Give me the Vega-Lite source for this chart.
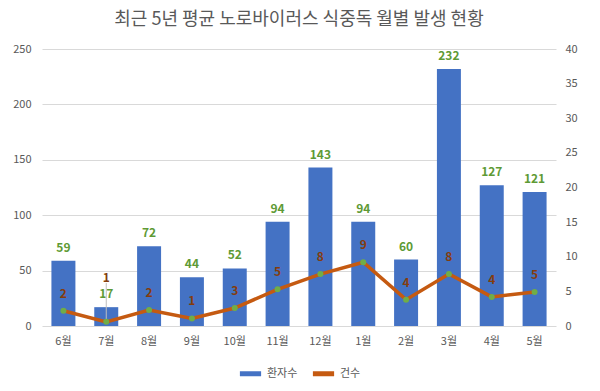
{
  "$schema": "https://vega.github.io/schema/vega-lite/v6.json",
  "width": 514,
  "height": 277,
  "autosize": {"type": "none"},
  "padding": {"left": 42, "top": 49, "right": 44, "bottom": 65},
  "background": "white",
  "title": {"text": "최근 5년 평균 노로바이러스 식중독 월별 발생 현황", "fontSize": 18, "fontWeight": "normal", "color": "#595959", "font": "Noto Sans CJK KR", "anchor": "middle", "offset": 14},
  "config": {
    "view": {"stroke": null},
    "font": "Noto Sans CJK KR",
    "axis": {"labelColor": "#595959", "labelFontSize": 11, "domain": false, "ticks": false, "titleColor": "#595959", "labelOverlap": false},
    "legend": {"layout": {"bottom": {"anchor": "middle"}}}
  },
  "data": {"values": [
    {"month": "6월", "patients": 59, "cases": 2.2},
    {"month": "7월", "patients": 17, "cases": 0.6},
    {"month": "8월", "patients": 72, "cases": 2.3},
    {"month": "9월", "patients": 44, "cases": 1.1},
    {"month": "10월", "patients": 52, "cases": 2.6},
    {"month": "11월", "patients": 94, "cases": 5.3},
    {"month": "12월", "patients": 143, "cases": 7.5},
    {"month": "1월", "patients": 94, "cases": 9.2},
    {"month": "2월", "patients": 60, "cases": 3.8},
    {"month": "3월", "patients": 232, "cases": 7.5},
    {"month": "4월", "patients": 127, "cases": 4.2},
    {"month": "5월", "patients": 121, "cases": 4.9}
  ]},
  "encoding": {
    "x": {"field": "month", "type": "nominal", "sort": ["6월","7월","8월","9월","10월","11월","12월","1월","2월","3월","4월","5월"],
      "scale": {"paddingInner": 0.44, "paddingOuter": 0.22},
      "axis": {"title": null, "labelAngle": 0, "labelPadding": 9, "grid": false}}
  },
  "layer": [
    {
      "encoding": {
        "y": {"field": "patients", "type": "quantitative", "scale": {"domain": [0, 250]},
          "axis": {"title": null, "values": [0,50,100,150,200,250], "grid": true, "gridColor": "#D9D9D9", "labelPadding": 11, "orient": "left"}}
      },
      "layer": [
        {
          "mark": {"type": "bar", "color": "#4472C4"},
          "encoding": {
            "color": {"datum": "환자수", "type": "nominal",
              "scale": {"domain": ["환자수", "건수"], "range": ["#4472C4", "#C55A11"]},
              "legend": {"title": null, "orient": "bottom", "direction": "horizontal", "symbolType": "stroke", "symbolStrokeWidth": 5, "symbolSize": 450, "labelFontSize": 11, "labelColor": "#595959", "columnPadding": 4, "labelOffset": 3, "offset": 14}}
          }
        },
        {
          "mark": {"type": "text", "dy": -13, "baseline": "middle", "fontWeight": "bold", "fontSize": 12, "color": "#5E9A35"},
          "encoding": {
            "text": {"field": "patients", "type": "quantitative"}
          }
        }
      ]
    },
    {
      "encoding": {
        "y": {"field": "cases", "type": "quantitative", "scale": {"domain": [0, 40]},
          "axis": {"title": null, "orient": "right", "values": [0,5,10,15,20,25,30,35,40], "grid": false, "labelPadding": 9, "labelOverlap": false}}
      },
      "layer": [
        {
          "transform": [{"filter": "datum.month === '7월'"}],
          "mark": {"type": "rule", "color": "#BFBFBF", "strokeWidth": 1},
          "encoding": {
            "y2": {"datum": 6.2}
          }
        },
        {
          "mark": {"type": "line", "strokeWidth": 3.5},
          "encoding": {
            "color": {"datum": "건수", "type": "nominal"}
          }
        },
        {
          "mark": {"type": "point", "filled": true, "size": 36, "color": "#70AD47", "opacity": 1},
          "encoding": {}
        },
        {
          "transform": [{"filter": "datum.month !== '7월'"}],
          "mark": {"type": "text", "dy": -17, "baseline": "middle", "fontWeight": "bold", "fontSize": 12, "color": "#843C0C"},
          "encoding": {
            "text": {"field": "cases", "type": "quantitative", "format": ".0f"}
          }
        },
        {
          "transform": [{"filter": "datum.month === '7월'"}],
          "mark": {"type": "text", "dy": -44, "baseline": "middle", "fontWeight": "bold", "fontSize": 12, "color": "#843C0C"},
          "encoding": {
            "text": {"field": "cases", "type": "quantitative", "format": ".0f"}
          }
        }
      ]
    }
  ],
  "resolve": {"scale": {"y": "independent"}}
}
